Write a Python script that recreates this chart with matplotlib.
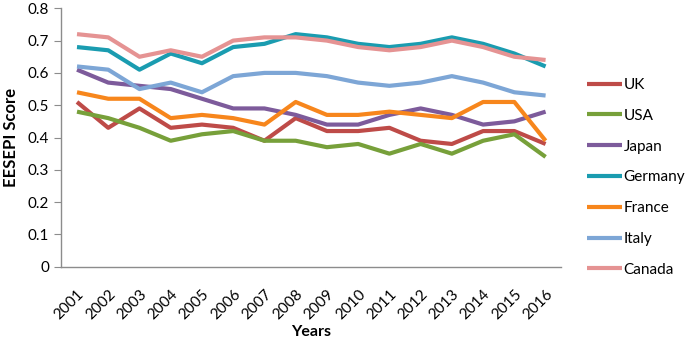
import matplotlib
matplotlib.use("Agg")
import matplotlib.pyplot as plt

plt.rcParams['font.family'] = ['Lato', 'DejaVu Sans']

years = [str(y) for y in range(2001, 2017)]

uk = [0.51, 0.43, 0.49, 0.43, 0.44, 0.43, 0.39, 0.46, 0.42, 0.42, 0.43, 0.39, 0.38, 0.42, 0.42, 0.38]
usa = [0.48, 0.46, 0.43, 0.39, 0.41, 0.42, 0.39, 0.39, 0.37, 0.38, 0.35, 0.38, 0.35, 0.39, 0.41, 0.34]
japan = [0.61, 0.57, 0.56, 0.55, 0.52, 0.49, 0.49, 0.47, 0.44, 0.44, 0.47, 0.49, 0.47, 0.44, 0.45, 0.48]
germany = [0.68, 0.67, 0.61, 0.66, 0.63, 0.68, 0.69, 0.72, 0.71, 0.69, 0.68, 0.69, 0.71, 0.69, 0.66, 0.62]
france = [0.54, 0.52, 0.52, 0.46, 0.47, 0.46, 0.44, 0.51, 0.47, 0.47, 0.48, 0.47, 0.46, 0.51, 0.51, 0.39]
italy = [0.62, 0.61, 0.55, 0.57, 0.54, 0.59, 0.60, 0.60, 0.59, 0.57, 0.56, 0.57, 0.59, 0.57, 0.54, 0.53]
canada = [0.72, 0.71, 0.65, 0.67, 0.65, 0.70, 0.71, 0.71, 0.70, 0.68, 0.67, 0.68, 0.70, 0.68, 0.65, 0.64]

series = [
    ("UK", uk, "#BE4B48"),
    ("USA", usa, "#77A03A"),
    ("Japan", japan, "#7D5B9B"),
    ("Germany", germany, "#1A9CB0"),
    ("France", france, "#F7861C"),
    ("Italy", italy, "#7DA6D6"),
    ("Canada", canada, "#E59393"),
]

fig = plt.figure(figsize=(6.92, 3.43), dpi=100)
ax = fig.add_axes([0.0887, 0.2224, 0.7223, 0.7534])

x = list(range(len(years)))
for name, vals, col in series:
    ax.plot(x, vals, color=col, lw=3, label=name, solid_capstyle='butt')

ax.set_xlim(-0.5, len(years) - 0.5)
ax.set_ylim(0, 0.8)
ax.set_yticks([i / 10 for i in range(9)])
ax.set_yticklabels(["0"] + [f"{i / 10:.1f}" for i in range(1, 9)])
ax.set_xticks(x)
ax.set_xticklabels(years, rotation=45, ha='right', rotation_mode='anchor')

# excel-ish axes: grey left/bottom only
for s in ['top', 'right']:
    ax.spines[s].set_visible(False)
for s in ['left', 'bottom']:
    ax.spines[s].set_color('#8C8C8C')
    ax.spines[s].set_linewidth(1)
ax.tick_params(axis='y', length=5, color='#8C8C8C', labelsize=11, pad=4)
ax.tick_params(axis='x', length=0, labelsize=11, pad=15)

ax.set_ylabel("EESEPI Score", fontsize=12, fontweight='bold', labelpad=6)
ax.set_xlabel("Years", fontsize=11.5, fontweight='bold', labelpad=2)

fig.legend(loc='center left', bbox_to_anchor=(0.848, 0.483), frameon=False,
           fontsize=11, handlelength=2.3, handletextpad=0.1, labelspacing=1.1,
           borderpad=0, borderaxespad=0)

plt.savefig("out.png", dpi=100)
